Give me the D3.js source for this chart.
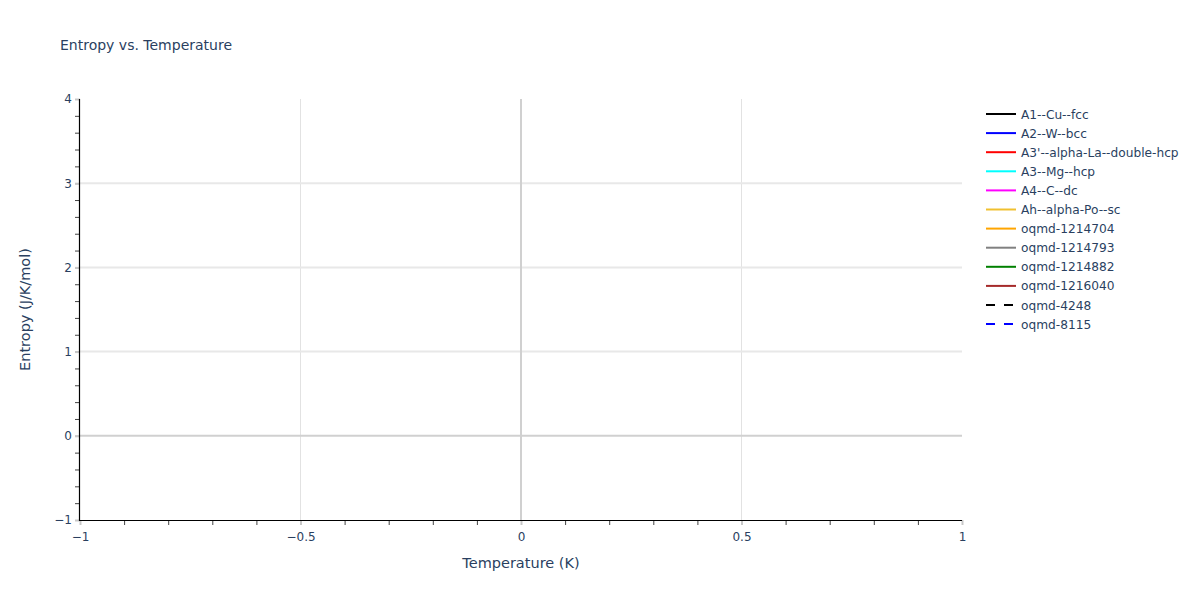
<!DOCTYPE html>
<html>
<head>
<meta charset="utf-8">
<script src="https://cdn.jsdelivr.net/npm/d3@7"></script>
<style>
  body { margin: 0; background: #fff; }
  text { font-family: "DejaVu Sans", verdana, arial, sans-serif; fill: #2a3f5f; }
</style>
</head>
<body>
<script>
// series shown in the legend (no points plotted)
var seriesNames = ["A1--Cu--fcc", "A2--W--bcc", "A3'--alpha-La--double-hcp", "A3--Mg--hcp",
    "A4--C--dc", "Ah--alpha-Po--sc", "oqmd-1214704", "oqmd-1214793", "oqmd-1214882",
    "oqmd-1216040", "oqmd-4248", "oqmd-8115"];
var seriesColors = ["black", "blue", "red", "cyan", "magenta", "#f0c030", "orange", "gray",
    "green", "brown", "black", "blue"];
var seriesDash = [false, false, false, false, false, false, false, false, false, false, true, true];

var xDomain = [-1, 1];
var yDomain = [-1, 4];
var xTicks = [-1, -0.5, 0, 0.5, 1];
var yTicks = [-1, 0, 1, 2, 3, 4];

var width = 1200, height = 600;
var margin = {left: 80, right: 238, top: 99, bottom: 80};

var svg = d3.select("body").append("svg")
    .attr("width", width)
    .attr("height", height);

var x = d3.scaleLinear().domain(xDomain).range([margin.left, width - margin.right]);
var y = d3.scaleLinear().domain(yDomain).range([height - margin.bottom, margin.top]);

var fmt = function (d) { return d3.format("")(d).replace("-", "\u2212"); };

// inner grid only (no lines on the plot edges)
var inner = function (dom) {
    return function (d) { return d !== 0 && d !== dom[0] && d !== dom[1]; };
};

// grid lines
svg.append("g").selectAll("line")
    .data(xTicks.filter(inner(xDomain)))
    .enter().append("line")
    .attr("x1", function (d) { return x(d); })
    .attr("x2", function (d) { return x(d); })
    .attr("y1", y(yDomain[0]))
    .attr("y2", y(yDomain[1]))
    .attr("stroke", "#e2e2e2")
    .attr("stroke-width", 1);

svg.append("g").selectAll("line")
    .data(yTicks.filter(inner(yDomain)))
    .enter().append("line")
    .attr("x1", x(xDomain[0]))
    .attr("x2", x(xDomain[1]))
    .attr("y1", function (d) { return y(d); })
    .attr("y2", function (d) { return y(d); })
    .attr("stroke", "#e8e8e8")
    .attr("stroke-width", 2);

// zero lines
svg.append("line")
    .attr("x1", x(0)).attr("x2", x(0))
    .attr("y1", y(yDomain[0])).attr("y2", y(yDomain[1]))
    .attr("stroke", "#d0d0d0").attr("stroke-width", 2);
svg.append("line")
    .attr("x1", x(xDomain[0])).attr("x2", x(xDomain[1]))
    .attr("y1", y(0)).attr("y2", y(0))
    .attr("stroke", "#d0d0d0").attr("stroke-width", 2);

// minor ticks
var xAxisMinor = d3.axisBottom(x).ticks(20).tickSize(5).tickFormat("");
var gxm = svg.append("g")
    .attr("transform", "translate(0," + y(yDomain[0]) + ")")
    .call(xAxisMinor);
gxm.select(".domain").remove();
gxm.selectAll("line").attr("stroke", "#444");

var yAxisMinor = d3.axisLeft(y).ticks(25).tickSize(5).tickFormat("");
var gym = svg.append("g")
    .attr("transform", "translate(" + x(xDomain[0]) + ",0)")
    .call(yAxisMinor);
gym.select(".domain").remove();
gym.selectAll("line").attr("stroke", "#444");

// major ticks and labels
var gx = svg.append("g")
    .attr("transform", "translate(0," + y(yDomain[0]) + ")")
    .call(d3.axisBottom(x).tickValues(xTicks).tickSize(5).tickFormat(fmt));
gx.select(".domain").remove();
gx.selectAll("line").attr("stroke", "#c8c8c8").attr("stroke-width", 2);
gx.selectAll("text").attr("font-size", 12).attr("dy", "1.05em")
    .style("font-family", null).attr("fill", null);

var gy = svg.append("g")
    .attr("transform", "translate(" + x(xDomain[0]) + ",0)")
    .call(d3.axisLeft(y).tickValues(yTicks).tickSize(5).tickFormat(fmt));
gy.select(".domain").remove();
gy.selectAll("line").attr("stroke", "#c8c8c8").attr("stroke-width", 2);
gy.selectAll("text").attr("font-size", 12).attr("x", -8)
    .style("font-family", null).attr("fill", null);

// axis lines
svg.append("line")
    .attr("x1", x(xDomain[0]) - 1).attr("x2", x(xDomain[1]))
    .attr("y1", y(yDomain[0]) + 0.5).attr("y2", y(yDomain[0]) + 0.5)
    .attr("stroke", "black").attr("stroke-width", 1.2);
svg.append("line")
    .attr("x1", x(xDomain[0]) - 0.5).attr("x2", x(xDomain[0]) - 0.5)
    .attr("y1", y(yDomain[0]) + 1).attr("y2", y(yDomain[1]))
    .attr("stroke", "black").attr("stroke-width", 1.2);

// titles
svg.append("text")
    .attr("x", 60).attr("y", 50)
    .attr("font-size", 14)
    .text("Entropy vs. Temperature");

svg.append("text")
    .attr("x", (x(xDomain[0]) + x(xDomain[1])) / 2)
    .attr("y", 568)
    .attr("text-anchor", "middle")
    .attr("font-size", 14.5)
    .text("Temperature (K)");

svg.append("text")
    .attr("transform", "translate(30," + ((y(yDomain[0]) + y(yDomain[1])) / 2) + ") rotate(-90)")
    .attr("text-anchor", "middle")
    .attr("font-size", 14.5)
    .text("Entropy (J/K/mol)");

// legend
var legend = svg.append("g").attr("transform", "translate(986,114)");
var items = legend.selectAll("g")
    .data(seriesNames)
    .enter().append("g")
    .attr("transform", function (d, i) { return "translate(0," + (i * 19.1) + ")"; });

items.append("line")
    .attr("x1", 0).attr("x2", 30)
    .attr("y1", 0).attr("y2", 0)
    .attr("stroke", function (d, i) { return seriesColors[i]; })
    .attr("stroke-width", 2)
    .attr("stroke-dasharray", function (d, i) { return seriesDash[i] ? "9,9" : null; });

items.append("text")
    .attr("x", 35)
    .attr("y", 4.5)
    .attr("font-size", 12.2)
    .text(function (d) { return d; });
</script>
</body>
</html>
